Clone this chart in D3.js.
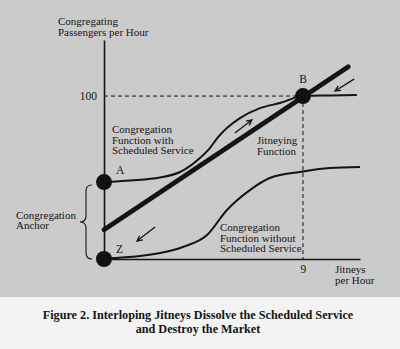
<!DOCTYPE html>
<html>
<head>
<meta charset="utf-8">
<script src="https://cdn.jsdelivr.net/npm/d3@7"></script>
<style>
  html, body { margin: 0; padding: 0; background: #f3f3f3; }
  svg { display: block; }
  text { font-family: "Liberation Serif", "Times New Roman", serif; fill: #141414; }
</style>
</head>
<body>
<svg id="chart" width="400" height="349"></svg>
<script>
// Jitneys per hour (x) vs congregating passengers per hour (y)
const xTicks = [9];
const yTicks = [100];

// Congregation function with scheduled service (starts at anchor A)
const withService = [
  [0, 47.2], [1.18, 48.2], [2.53, 50.0], [3.44, 53.4], [4.34, 62.0],
  [4.79, 68.1], [5.16, 74.8], [5.56, 80.4], [6.15, 86.5], [7.06, 92.6],
  [7.96, 95.7], [9, 100], [10.22, 100.4], [11.44, 100.7]
];

// Congregation function without scheduled service (starts at anchor Z)
const withoutService = [
  [0, 0.3], [1.63, 1.8], [2.76, 4.3], [3.57, 7.4], [4.66, 14.7],
  [5.56, 30.1], [6.6, 42.3], [7.5, 49.7], [8.86, 53.4], [10.22, 55.8],
  [11.58, 56.4]
];

// Jitneying function (straight line)
const jitneying = [[0, 18], [11.05, 118]];

// Equilibrium and anchor points
const points = [
  { name: "A", x: 0, y: 47.2 },
  { name: "Z", x: 0, y: 0 },
  { name: "B", x: 9, y: 100 }
];

// Direction arrows: tail -> head
const arrows = [
  { from: [5.92, 77.3], to: [6.69, 85.3] },
  { from: [11.31, 110.4], to: [10.45, 103.1] },
  { from: [2.31, 19.6], to: [1.49, 11.0] }
];

const svg = d3.select("#chart");

// Grey plate behind the diagram
svg.append("rect").attr("x", 0).attr("y", 0).attr("width", 400).attr("height", 297)
  .attr("fill", "#cbcbcb");

const x = d3.scaleLinear().domain([0, 11.58]).range([104, 360]);
const y = d3.scaleLinear().domain([0, 134.4]).range([259, 40]);

// Axes
const yAxis = d3.axisLeft(y).tickValues(yTicks).tickSize(0).tickSizeOuter(0).tickPadding(7);
const xAxis = d3.axisBottom(x).tickValues(xTicks).tickSize(0).tickSizeOuter(0).tickPadding(6);

const gy = svg.append("g").attr("transform", `translate(${x(0)},0)`).call(yAxis);
const gx = svg.append("g").attr("transform", `translate(0,${y(0)})`).call(xAxis);
[gx, gy].forEach(g => {
  g.select(".domain").attr("stroke", "#141414").attr("stroke-width", 1.6);
  g.selectAll("text").attr("font-family", "Liberation Serif, serif").attr("font-size", 11.5).attr("fill", "#141414");
});

// Dashed guides to B
const B = points.find(p => p.name === "B");
svg.append("line").attr("x1", x(0)).attr("x2", x(B.x)).attr("y1", y(B.y)).attr("y2", y(B.y))
  .attr("stroke", "#141414").attr("stroke-width", 1).attr("stroke-dasharray", "4,3");
svg.append("line").attr("x1", x(B.x)).attr("x2", x(B.x)).attr("y1", y(B.y)).attr("y2", y(0))
  .attr("stroke", "#141414").attr("stroke-width", 1).attr("stroke-dasharray", "4,3");

const line = d3.line().x(d => x(d[0])).y(d => y(d[1])).curve(d3.curveMonotoneX);

svg.append("path").datum(withService).attr("d", line)
  .attr("fill", "none").attr("stroke", "#141414").attr("stroke-width", 2);
svg.append("path").datum(withoutService).attr("d", line)
  .attr("fill", "none").attr("stroke", "#141414").attr("stroke-width", 2);
svg.append("path").datum(jitneying).attr("d", d3.line().x(d => x(d[0])).y(d => y(d[1])))
  .attr("fill", "none").attr("stroke", "#141414").attr("stroke-width", 4.8).attr("stroke-linecap", "round");

// Points
svg.selectAll("circle.pt").data(points).join("circle").attr("class", "pt")
  .attr("cx", d => x(d.x)).attr("cy", d => y(d.y)).attr("r", 8).attr("fill", "#111");

// Arrows
arrows.forEach(a => {
  const x1 = x(a.from[0]), y1 = y(a.from[1]), x2 = x(a.to[0]), y2 = y(a.to[1]);
  const ang = Math.atan2(y2 - y1, x2 - x1);
  const hl = 6, spread = 0.45;
  const p1 = [x2 - hl * Math.cos(ang - spread), y2 - hl * Math.sin(ang - spread)];
  const p2 = [x2 - hl * Math.cos(ang + spread), y2 - hl * Math.sin(ang + spread)];
  svg.append("path")
    .attr("d", `M${x1},${y1}L${x2},${y2}M${p1[0]},${p1[1]}L${x2},${y2}L${p2[0]},${p2[1]}`)
    .attr("fill", "none").attr("stroke", "#141414").attr("stroke-width", 1.3);
});

// Brace for the congregation anchor
svg.append("path")
  .attr("d", "M92,185 Q86,185 86,191 L86,216 Q86,222 80,222 Q86,222 86,228 L86,253 Q86,259 92,259")
  .attr("fill", "none").attr("stroke", "#141414").attr("stroke-width", 1.1);

// Text labels
function block(lines, x0, y0, lh, opts = {}) {
  const t = svg.append("text").attr("font-size", opts.size || 11)
    .attr("text-anchor", opts.anchor || "start")
    .attr("font-weight", opts.weight || "normal");
  lines.forEach((s, i) => t.append("tspan").attr("x", x0).attr("y", y0 + i * lh).text(s));
  return t;
}

block(["Congregating", "Passengers per Hour"], 58, 25, 10.8);
block(["Congregation", "Function with", "Scheduled Service"], 112, 133, 10.6);
block(["Jitneying", "Function"], 257, 144, 10.6);
block(["Congregation", "Function without", "Scheduled Service"], 220, 231, 10.6);
block(["Congregation", "Anchor"], 16, 218.5, 10.6);
block(["Jitneys", "per Hour"], 335, 273, 10.6);
block(["A"], 116, 174, 0, { size: 11.5 });
block(["Z"], 116, 253, 0, { size: 11.5 });
block(["B"], 303, 83, 0, { size: 11.5, anchor: "middle" });

block(["Figure 2. Interloping Jitneys Dissolve the Scheduled Service", "and Destroy the Market"],
  198, 319, 14, { size: 12.2, anchor: "middle", weight: "bold" });
</script>
</body>
</html>
